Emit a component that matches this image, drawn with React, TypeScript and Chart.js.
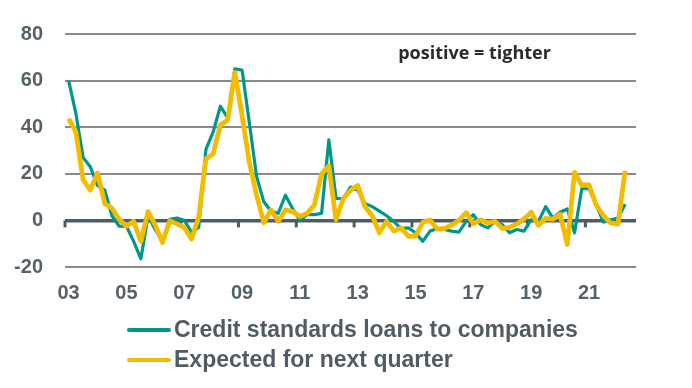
import React, { useEffect, useRef } from 'react';
import { Chart, registerables } from 'chart.js';

Chart.register(...registerables);

// Quarterly categories 2003Q1 .. 2022Q3
const categories: string[] = [];
for (let y = 2003; y <= 2022; y++) {
  for (let q = 1; q <= 4; q++) {
    if (y === 2022 && q > 3) break;
    categories.push(`${y}Q${q}`);
  }
}

const creditStandards = [
  60, 46, 27, 23, 15, 13, 2, -2.5,
  -2.5, -9, -16.5, 2, -4, -9, 0.5, 1,
  0, -5, -3, 30.5, 38, 49, 44, 65,
  64.5, 42, 19, 8, 4, 3, 10.8, 5,
  0, 2.5, 2.5, 3, 34.6, 9.4, 9.4, 14.3,
  13, 7.3, 5.9, 4, 2, -0.5, -3.5, -3.2,
  -5.3, -9, -4.6, -3.5, -3.9, -4.6, -5, -0.4,
  2.4, -1.8, -3.2, -0.4, -1.8, -5.3, -3.9, -4.6,
  0.3, -0.4, 5.9, 1, 3.5, 4.9, -5.3, 13.6,
  13.6, 6.6, -0.7, 0.3, 1, 6.9,
];

const expectedNextQuarter = [
  43.7, 38, 17.5, 13, 20.3, 7.3, 5.2, 0.5,
  -2.5, -0.4, -9, 3.8, -2, -9.5, -0.2, -1.5,
  -3, -8, 1.5, 26.5, 28.5, 41, 43, 63.5,
  45, 25, 11, -1, 4.5, -0.4, 4.5, 3.8,
  1.7, 3, 6.6, 20, 23.4, 0.3, 9.4, 12.9,
  15, 6, 2, -5.3, -0.4, -4.6, -3.2, -6.8,
  -6.7, -0.8, 0.2, -3.7, -3.4, -2, 0, 3.3,
  -1.4, 0.3, -1.1, -0.4, -3.5, -3, -1.6, 0.6,
  3.5, -2.1, 0.9, 0.5, 2.6, -10.3, 20.6, 15,
  15.3, 6.6, 2, -1.1, -1.6, 21.3,
];

const tickLabels = ['03', '05', '07', '09', '11', '13', '15', '17', '19', '21'];
const seriesLabels = ['Credit standards loans to companies', 'Expected for next quarter'];
const seriesColors = ['#00968A', '#F2BD00'];
const annotationText = 'positive = tighter';

const AXIS_GREY = '#56626A';
const GRID_GREY = '#8A8A8A';
const ZERO_COLOR = '#4F5B62';

const decorPlugin = {
  id: 'decor',
  beforeDatasetsDraw(chart: any) {
    const { ctx } = chart;
    const xs = chart.scales.x;
    const ys = chart.scales.y;
    const y0 = ys.getPixelForValue(0);
    const half = (xs.getPixelForValue(1) - xs.getPixelForValue(0)) / 2;
    ctx.save();
    ctx.strokeStyle = ZERO_COLOR;
    ctx.lineWidth = 3;
    for (let k = 0; k < tickLabels.length; k++) {
      const x = xs.getPixelForValue(k * 8) - half;
      ctx.beginPath();
      ctx.moveTo(x, y0);
      ctx.lineTo(x, y0 + 7);
      ctx.stroke();
    }
    ctx.restore();
  },
  afterDraw(chart: any) {
    const { ctx } = chart;
    const xs = chart.scales.x;
    const ys = chart.scales.y;
    ctx.save();
    // annotation
    ctx.font = 'bold 18px "Open Sans", Lato, sans-serif';
    ctx.fillStyle = '#2B2B2B';
    ctx.textAlign = 'left';
    ctx.textBaseline = 'middle';
    ctx.fillText(annotationText, xs.getPixelForValue(45.6), ys.getPixelForValue(71.5));
    // legend
    const ds = chart.data.datasets;
    ctx.font = 'bold 23px "Liberation Sans", Arial, sans-serif';
    ctx.textBaseline = 'middle';
    const rows = [330, 360];
    ds.forEach((d: any, i: number) => {
      const y = rows[i];
      ctx.strokeStyle = d.borderColor;
      ctx.lineWidth = 4;
      ctx.lineCap = 'round';
      ctx.beginPath();
      ctx.moveTo(129, y);
      ctx.lineTo(169, y);
      ctx.stroke();
      ctx.fillStyle = '#505C64';
      ctx.fillText(d.label, 174, y + 1);
    });
    ctx.restore();
  },
};

export default function App() {
  const ref = useRef<HTMLCanvasElement | null>(null);

  useEffect(() => {
    if (!ref.current) return;
    const chart = new Chart(ref.current, {
      type: 'line',
      data: {
        labels: categories,
        datasets: [
          {
            label: seriesLabels[0],
            data: creditStandards,
            borderColor: seriesColors[0],
            backgroundColor: seriesColors[0],
            borderWidth: 3.2,
            pointRadius: 0,
            tension: 0,
            borderJoinStyle: 'round',
            order: 1,
          },
          {
            label: seriesLabels[1],
            data: expectedNextQuarter,
            borderColor: seriesColors[1],
            backgroundColor: seriesColors[1],
            borderWidth: 4.8,
            pointRadius: 0,
            tension: 0,
            borderJoinStyle: 'round',
            order: 0,
          },
        ],
      },
      options: {
        responsive: false,
        animation: false,
        devicePixelRatio: 1,
        layout: { padding: { top: 29, right: 56, bottom: 81, left: 0 } },
        plugins: {
          legend: { display: false },
          tooltip: { enabled: false },
        },
        scales: {
          x: {
            type: 'category',
            offset: true,
            grid: { display: false, drawTicks: false },
            border: { display: false },
            ticks: {
              autoSkip: false,
              maxRotation: 0,
              padding: 14,
              color: AXIS_GREY,
              font: { family: '"Liberation Sans", Arial, sans-serif', size: 20, weight: 'bold' },
              callback: (_v: any, idx: number) => (idx % 8 === 0 ? tickLabels[idx / 8] ?? '' : ''),
            },
            afterFit: (scale: any) => {
              scale.height = 40;
            },
          },
          y: {
            min: -20,
            max: 80,
            grid: {
              drawTicks: false,
              color: (c: any) => (c.tick && c.tick.value === 0 ? ZERO_COLOR : GRID_GREY),
              lineWidth: (c: any) => (c.tick && c.tick.value === 0 ? 3.5 : 2),
            },
            border: { display: false },
            ticks: {
              stepSize: 20,
              padding: 22,
              color: AXIS_GREY,
              font: { family: '"Liberation Sans", Arial, sans-serif', size: 20, weight: 'bold' },
            },
            afterFit: (scale: any) => {
              scale.width = 65;
            },
          },
        },
      },
      plugins: [decorPlugin],
    } as any);
    return () => chart.destroy();
  }, []);

  return (
    <div style={{ position: 'fixed', left: 0, top: 0, width: 692, height: 388, background: '#fff' }}>
      <canvas ref={ref} width={692} height={388} style={{ display: 'block', width: 692, height: 388 }} />
    </div>
  );
}
